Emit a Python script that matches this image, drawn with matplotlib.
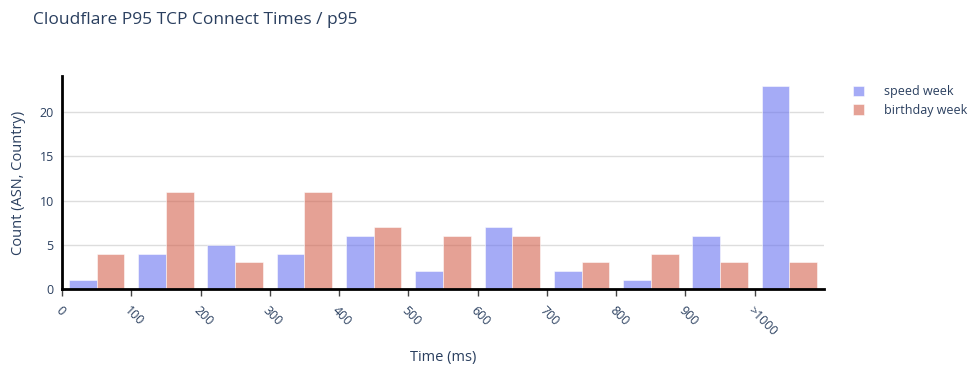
import numpy as np
import matplotlib
matplotlib.use("Agg")
import matplotlib.pyplot as plt

plt.rcParams["font.family"] = ["Open Sans", "DejaVu Sans"]

# histogram bins (ms) and counts per bin
bin_starts = [0, 100, 200, 300, 400, 500, 600, 700, 800, 900, 1000]
tick_labels = ["0", "100", "200", "300", "400", "500", "600", "700", "800", "900", ">1000"]
speed_week = [1, 4, 5, 4, 6, 2, 7, 2, 1, 6, 23]
birthday_week = [4, 11, 3, 11, 7, 6, 6, 3, 4, 3, 3]

text_color = "#2a3f5f"
blue = "#6973f1"
red = "#d4624e"

fig = plt.figure(figsize=(9.76, 3.71), dpi=100)
ax = fig.add_axes([62 / 976, 82 / 371, (824 - 62) / 976, (289 - 76) / 371])

bin_w = 100
bar_w = bin_w * 0.4
x = np.array(bin_starts, dtype=float)
ax.bar(x + bin_w * 0.1, speed_week, width=bar_w, align="edge", color=blue, alpha=0.6,
       edgecolor="white", linewidth=0.6, label="speed week", zorder=3)
ax.bar(x + bin_w * 0.5, birthday_week, width=bar_w, align="edge", color=red, alpha=0.6,
       edgecolor="white", linewidth=0.6, label="birthday week", zorder=3)

ax.set_xlim(0, 1100)
ax.set_ylim(0, 24.1)

ax.set_yticks([0, 5, 10, 15, 20])
ax.yaxis.grid(True, color="#dddddd", linewidth=1, zorder=0)
ax.tick_params(axis="y", length=0, labelsize=9, labelcolor=text_color, pad=6)

ax.set_xticks(bin_starts)
ax.set_xticklabels(tick_labels, rotation=-45, ha="left", va="top", rotation_mode="anchor")
ax.tick_params(axis="x", length=5, width=1, color="#444444", labelsize=9,
               labelcolor=text_color, pad=6)

for side in ["top", "right"]:
    ax.spines[side].set_visible(False)
for side in ["left", "bottom"]:
    ax.spines[side].set_linewidth(2)
    ax.spines[side].set_color("black")
    ax.spines[side].set_zorder(4)

ax.set_ylabel("Count (ASN, Country)", fontsize=10.5, color=text_color, labelpad=10)
fig.text(443 / 976, 1 - 357 / 371, "Time (ms)", fontsize=10.5, color=text_color,
         ha="center", va="center")

fig.text(33 / 976, 1 - 20 / 371, "Cloudflare P95 TCP Connect Times / p95",
         fontsize=12.5, color=text_color, va="center", ha="left")

leg = fig.legend(loc="upper left", bbox_to_anchor=(848 / 976, 1 - 80 / 371), frameon=False,
                 fontsize=9, handlelength=0.9, handleheight=0.9, handletextpad=1.6,
                 labelspacing=0.45, borderaxespad=0)
for t in leg.get_texts():
    t.set_color(text_color)

fig.savefig("out.png", dpi=100)
